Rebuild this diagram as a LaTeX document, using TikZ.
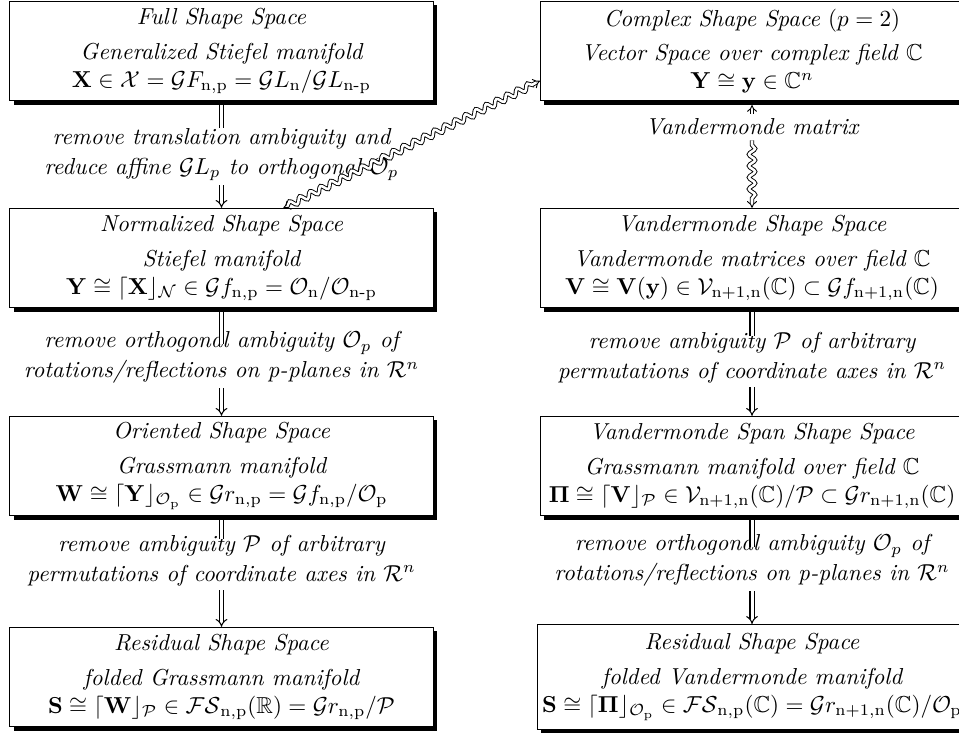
\documentclass[tikz,border=0pt]{standalone}
\usepackage{amsmath}
\usepackage{amssymb}
\usepackage{tikz}
\tikzset{
  space/.style={draw=black, line width=0.4pt, fill=white, font=\itshape, align=center,
    minimum width=183.2pt, minimum height=43pt, inner sep=2pt,
    drop shadow={shadow xshift=1.7pt, shadow yshift=-1.7pt, fill=black, opacity=1}},
  lbl/.style={font=\itshape, align=center, inner xsep=4pt, inner ysep=0pt},
  reduce/.style={draw=black, double=white, double distance=1.3pt, line width=0.45pt, shorten <=1.7pt, -{Implies}},
  wavy/.style={double, double distance=1.1pt, line width=0.4pt, decorate,
    decoration={snake, amplitude=1.3pt, segment length=5pt, pre length=2pt, post length=3pt}},
}
\usetikzlibrary{arrows.meta,shadows,decorations.pathmorphing}
\def\xl{221.5}
\def\xr{752}
\newcommand{\nsub}[1]{\mathrm{#1}}

\begin{document}
\begin{tikzpicture}[x=0.433pt, y=-0.433pt]

  \useasboundingbox (0,0) rectangle (959,733);

  % left column: real shape spaces
  \node[space] (full) at (\xl,51) {Full Shape Space\\[3pt]
    Generalized Stiefel manifold\\
    $\mathbf{X}\in\mathcal{X}=\mathcal{G}F_{\nsub{n,p}}=\mathcal{G}L_{\nsub{n}}/\mathcal{G}L_{\textnormal{n-p}}$};
  \node[space] (norm) at (\xl,258) {Normalized Shape Space\\[3pt]
    Stiefel manifold\\
    $\mathbf{Y}\cong\lceil\mathbf{X}\rfloor_{\mathcal{N}}\in\mathcal{G}f_{\nsub{n,p}}=\mathcal{O}_{\nsub{n}}/\mathcal{O}_{\textnormal{n-p}}$};
  \node[space] (orient) at (\xl,466) {Oriented Shape Space\\[3pt]
    Grassmann manifold\\
    $\mathbf{W}\cong\lceil\mathbf{Y}\rfloor_{\mathcal{O}_{\nsub{p}}}\in\mathcal{G}r_{\nsub{n,p}}=\mathcal{G}f_{\nsub{n,p}}/\mathcal{O}_{\nsub{p}}$};
  \node[space] (resl) at (\xl,677) {Residual Shape Space\\[3pt]
    folded Grassmann manifold\\
    $\mathbf{S}\cong\lceil\mathbf{W}\rfloor_{\mathcal{P}}\in\mathcal{FS}_{\nsub{n,p}}(\mathbb{R})=\mathcal{G}r_{\nsub{n,p}}/\mathcal{P}$};

  % right column: complex shape spaces
  \node[space] (cplx) at (\xr,51) {Complex Shape Space $(p=2)$\\[3pt]
    Vector Space over complex field $\mathbb{C}$\\
    $\mathbf{Y}\cong\mathbf{y}\in\mathbb{C}^n$};
  \node[space] (vdm) at (\xr,258) {Vandermonde Shape Space\\[3pt]
    Vandermonde matrices over field $\mathbb{C}$\\
    $\mathbf{V}\cong\mathbf{V}(\mathbf{y})\in\mathcal{V}_{\nsub{n+1,n}}(\mathbb{C})\subset\mathcal{G}f_{\nsub{n+1,n}}(\mathbb{C})$};
  \node[space] (span) at (\xr,466) {Vandermonde Span Shape Space\\[3pt]
    Grassmann manifold over field $\mathbb{C}$\\
    $\mathbf{\Pi}\cong\lceil\mathbf{V}\rfloor_{\mathcal{P}}\in\mathcal{V}_{\nsub{n+1,n}}(\mathbb{C})/\mathcal{P}\subset\mathcal{G}r_{\nsub{n+1,n}}(\mathbb{C})$};
  \node[space, minimum height=45.5pt] (resr) at (\xr,677) {Residual Shape Space\\[3pt]
    folded Vandermonde manifold\\
    $\mathbf{S}\cong\lceil\mathbf{\Pi}\rfloor_{\mathcal{O}_{\nsub{p}}}\in\mathcal{FS}_{\nsub{n,p}}(\mathbb{C})=\mathcal{G}r_{\nsub{n+1,n}}(\mathbb{C})/\mathcal{O}_{\nsub{p}}$};

  % reductions
  \node[lbl] (la) at (\xl,154.5) {remove translation ambiguity and\\[1pt]
    reduce affine $\mathcal{G}L_p$ to orthogonal $\mathcal{O}_p$};
  \node[lbl] (lb) at (\xl,357.5) {remove orthogonal ambiguity $\mathcal{O}_p$ of\\[1pt]
    rotations/reflections on p-planes in $\mathcal{R}^n$};
  \node[lbl] (lc) at (\xl,560.5) {remove ambiguity $\mathcal{P}$ of arbitrary\\[1pt]
    permutations of coordinate axes in $\mathcal{R}^n$};
  \node[lbl, inner ysep=2pt] (ra) at (\xr,127) {Vandermonde matrix};
  \node[lbl] (rb) at (\xr,357.5) {remove ambiguity $\mathcal{P}$ of arbitrary\\[1pt]
    permutations of coordinate axes in $\mathcal{R}^n$};
  \node[lbl] (rc) at (\xr,560.5) {remove orthogonal ambiguity $\mathcal{O}_p$ of\\[1pt]
    rotations/reflections on p-planes in $\mathcal{R}^n$};

  \draw[reduce, -] (full.south) -- (la.north);
  \draw[reduce] (la.south) -- (norm.north);
  \draw[reduce, -, shorten >=-5.5pt] (norm.south) -- (lb.north);
  \draw[reduce] (lb.south) -- (orient.north);
  \draw[reduce, -, shorten >=-2pt] (orient.south) -- (lc.north);
  \draw[reduce] (lc.south) -- (resl.north);

  \draw[reduce, -, shorten >=-2pt] (vdm.south) -- (rb.north);
  \draw[reduce] (rb.south) -- (span.north);
  \draw[reduce, -, shorten >=-5.5pt] (span.south) -- (rc.north);
  \draw[reduce] (rc.south) -- (resr.north);

  % complex embedding
  \draw[wavy, -{Implies}, shorten >=1.7pt] (ra.north) -- (cplx.south);
  \draw[wavy, -{Implies}] (ra.south) -- (vdm.north);
  \draw[wavy, {Implies}-{Implies}] (norm.39) -- (cplx.188);

\end{tikzpicture}
\end{document}
